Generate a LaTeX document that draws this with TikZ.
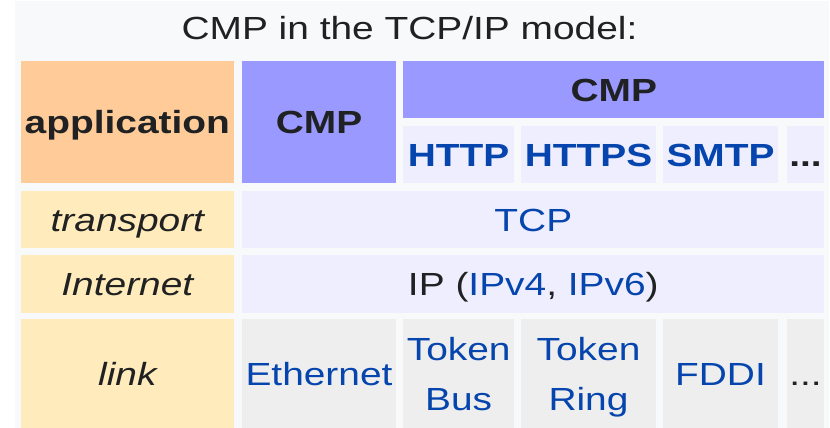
\documentclass[tikz,border=0pt]{standalone}
\usepackage{fontspec}
\setmainfont{Liberation Sans}[FakeStretch=1.215]
\definecolor{panel}{HTML}{F8F9FA}
\definecolor{appc}{HTML}{FFCC99}
\definecolor{cmpc}{HTML}{9999FF}
\definecolor{lav}{HTML}{EEEEFF}
\definecolor{layc}{HTML}{FFEBBB}
\definecolor{grayc}{HTML}{EEEEEE}
\definecolor{ink}{HTML}{202122}
\definecolor{linkc}{HTML}{0645AD}
\newcommand\cellbox[6]{\node[cellstyle, fill=#6, minimum width={#4-#2}, minimum height={#5-#3}, anchor=north west] (#1) at (#2,#3) {};}
\begin{document}
\begin{tikzpicture}[x=1pt,y=-1pt,
  cellstyle/.style={draw=none, inner sep=0pt, outer sep=0pt},
  txt/.style={inner sep=0pt, anchor=base, text=ink, font=\fontsize{32}{50}\selectfont},
  lnk/.style={txt, text=linkc}]
\useasboundingbox (0,0) rectangle (830,428);
\fill[panel] (15,1) rectangle (829,428);
\node[txt] (title) at (409.5,39.3) {CMP in the TCP/IP model:};
% cells
\cellbox{app}{21}{61.3}{233.7}{183.3}{appc}
\cellbox{cmpa}{242.3}{61.3}{395.7}{183.3}{cmpc}
\cellbox{cmpb}{403.3}{61.3}{824.3}{118.3}{cmpc}
\cellbox{http}{403.3}{126}{514}{183.3}{lav}
\cellbox{https}{521}{126}{656}{183.3}{lav}
\cellbox{smtp}{663.3}{126}{777.7}{183.3}{lav}
\cellbox{dotsa}{786.7}{126}{824.3}{183.3}{lav}
\cellbox{transport}{21}{191}{233.7}{248}{layc}
\cellbox{tcp}{242.3}{191}{824.3}{248}{lav}
\cellbox{internet}{21}{254.7}{233.7}{313}{layc}
\cellbox{ip}{242.3}{254.7}{824.3}{313}{lav}
\cellbox{link}{21}{319.3}{233.7}{428}{layc}
\cellbox{eth}{242.3}{319.3}{395.7}{428}{grayc}
\cellbox{tbus}{403.3}{319.3}{514}{428}{grayc}
\cellbox{tring}{521}{319.3}{656}{428}{grayc}
\cellbox{fddi}{663.3}{319.3}{777.7}{428}{grayc}
\cellbox{dotsb}{786.7}{319.3}{824.3}{428}{grayc}
% texts
\node[txt, font=\fontsize{32}{50}\selectfont\bfseries] (tapp) at ([yshift=-11.6pt]app.center) {application};
\node[txt, font=\fontsize{32}{50}\selectfont\bfseries] (tcmpa) at ([yshift=-11.6pt]cmpa.center) {CMP};
\node[txt, font=\fontsize{32}{50}\selectfont\bfseries] (tcmpb) at ([yshift=-11.6pt]cmpb.center) {CMP};
\node[lnk, font=\fontsize{32}{50}\selectfont\bfseries] (thttp) at ([yshift=-11.6pt]http.center) {HTTP};
\node[lnk, font=\fontsize{32}{50}\selectfont\bfseries] (thttps) at ([yshift=-11.6pt]https.center) {HTTPS};
\node[lnk, font=\fontsize{32}{50}\selectfont\bfseries] (tsmtp) at ([yshift=-11.6pt]smtp.center) {SMTP};
\node[txt, font=\fontsize{32}{50}\selectfont\bfseries] (tdotsa) at ([yshift=-11.6pt]dotsa.center) {...};
\node[txt, font=\fontsize{32}{50}\selectfont\itshape] (ttransport) at ([yshift=-11.6pt]transport.center) {transport};
\node[lnk] (ttcp) at ([yshift=-11.6pt]tcp.center) {TCP};
\node[txt, font=\fontsize{32}{50}\selectfont\itshape] (tinternet) at ([yshift=-11.6pt]internet.center) {Internet};
\node[txt] (tip) at ([yshift=-11.6pt]ip.center) {IP (\textcolor{linkc}{IPv4}, \textcolor{linkc}{IPv6})};
\node[txt, font=\fontsize{32}{50}\selectfont\itshape] (tlink) at ([yshift=-11.6pt]link.center) {link};
\node[lnk] (teth) at ([yshift=-11.6pt]eth.center) {Ethernet};
\node[lnk] (ttbusa) at ([yshift=13pt]tbus.center) {Token};
\node[lnk] (ttbusb) at ([yshift=-37pt]tbus.center) {Bus};
\node[lnk] (ttringa) at ([yshift=13pt]tring.center) {Token};
\node[lnk] (ttringb) at ([yshift=-37pt]tring.center) {Ring};
\node[lnk] (tfddi) at ([yshift=-11.6pt]fddi.center) {FDDI};
\node[txt] (tdotsb) at ([yshift=-11.6pt]dotsb.center) {...};
\end{tikzpicture}
\end{document}
